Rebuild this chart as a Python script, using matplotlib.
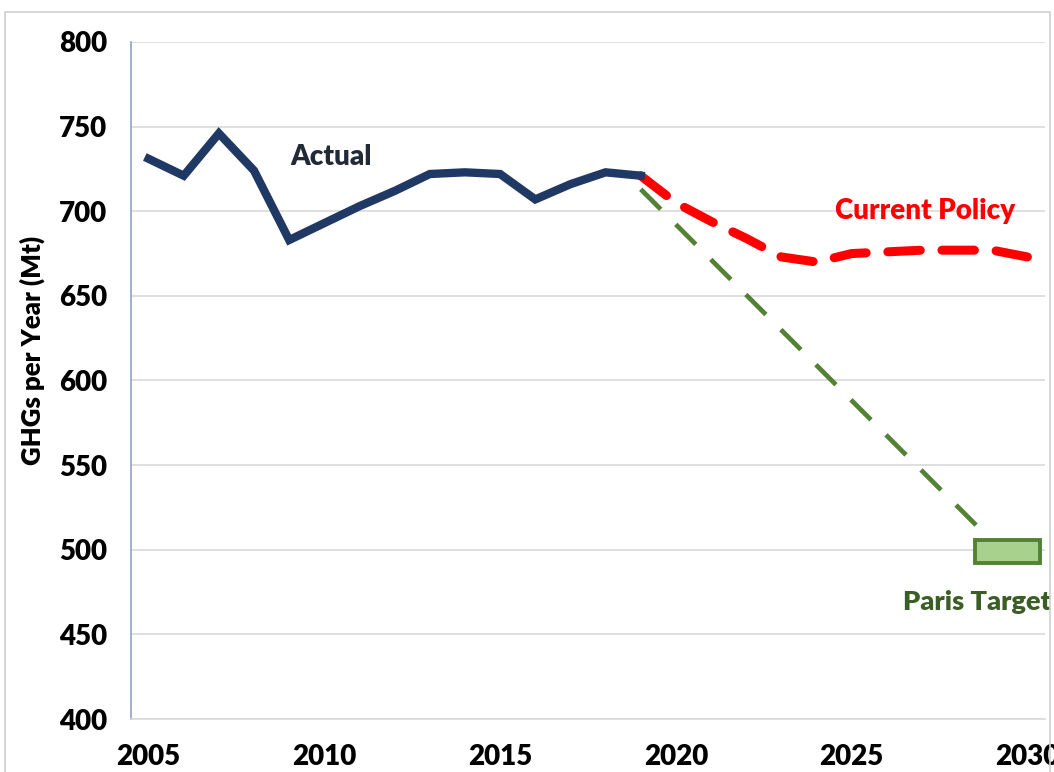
import matplotlib
matplotlib.use("Agg")
import matplotlib.pyplot as plt
from matplotlib.patches import Rectangle

# data
years_actual = [2005, 2006, 2007, 2008, 2009, 2010, 2011, 2012, 2013, 2014,
                2015, 2016, 2017, 2018, 2019]
actual = [731, 721, 746, 724, 683, 693, 703, 712, 722, 723,
          722, 707, 716, 723, 721]

years_policy = [2019, 2020, 2021, 2022, 2023, 2024, 2025, 2026, 2027, 2028, 2029, 2030]
policy = [721, 705, 694, 684, 673, 670, 675, 676, 677, 677, 677, 673]

years_paris = [2019, 2029]
paris = [713, 505]

paris_box_x = [2028.5, 2030.35]
paris_box_y = [492, 506]

x_ticks = [2005, 2010, 2015, 2020, 2025, 2030]
y_ticks = [400, 450, 500, 550, 600, 650, 700, 750, 800]

plt.rcParams['font.family'] = ['Lato', 'DejaVu Sans']
W = "heavy"

fig = plt.figure(figsize=(10.54, 7.72), dpi=100)
ax = fig.add_axes([131/1054, 1 - 719/772, (1045 - 131)/1054, (719 - 42)/772])

# outer chart frame
fig.patches.append(Rectangle((5/1054, -0.05), 1045/1054, 1.05 - 12/772,
                             transform=fig.transFigure, fill=False,
                             edgecolor="#d0d0d0", linewidth=1.2))

ax.plot(years_paris, paris, color="#548235", linewidth=3.4,
        dashes=(6, 4.5), solid_capstyle="butt", zorder=3)
ax.plot(years_policy, policy, color="#ff0000", linewidth=6.5,
        dashes=(3.6, 2.4), dash_capstyle="round", zorder=4)
ax.plot(years_actual, actual, color="#203864", linewidth=6,
        solid_joinstyle="miter", zorder=5)

ax.add_patch(Rectangle((paris_box_x[0], paris_box_y[0]),
                       paris_box_x[1] - paris_box_x[0],
                       paris_box_y[1] - paris_box_y[0],
                       facecolor="#a9d18e", edgecolor="#548235",
                       linewidth=2.8, zorder=6, clip_on=False))

ax.text(2010.2, 732, "Actual", color="#222a35", fontsize=20,
        fontweight=W, ha="center", va="center")
ax.text(2027.1, 700, "Current Policy", color="#ff0000", fontsize=20,
        fontweight=W, ha="center", va="center")
ax.text(2028.55, 469, "Paris Target", color="#3b5e25", fontsize=19.5,
        fontweight=W, ha="center", va="center")

ax.set_xlim(2004.5, 2030.5)
ax.set_ylim(400, 800)
ax.set_xticks(x_ticks)
ax.set_yticks(y_ticks)
ax.tick_params(length=0, labelsize=20, pad=17)
for lab in ax.get_xticklabels() + ax.get_yticklabels():
    lab.set_fontweight(W)
ax.tick_params(axis="x", pad=18)

ax.grid(axis="y", color="#d9d9d9", linewidth=1.2)
ax.set_axisbelow(True)
for side in ["top", "right"]:
    ax.spines[side].set_visible(False)
ax.spines["left"].set_color("#8fa3c4")
ax.spines["bottom"].set_color("#d9d9d9")
ax.spines["left"].set_linewidth(1.2)
ax.spines["bottom"].set_linewidth(1.2)

ax.set_ylabel("GHGs per Year (Mt)", fontsize=18.5, fontweight=W)
ax.yaxis.set_label_coords(-0.094, 0.545)

fig.savefig("out.png", dpi=100)
